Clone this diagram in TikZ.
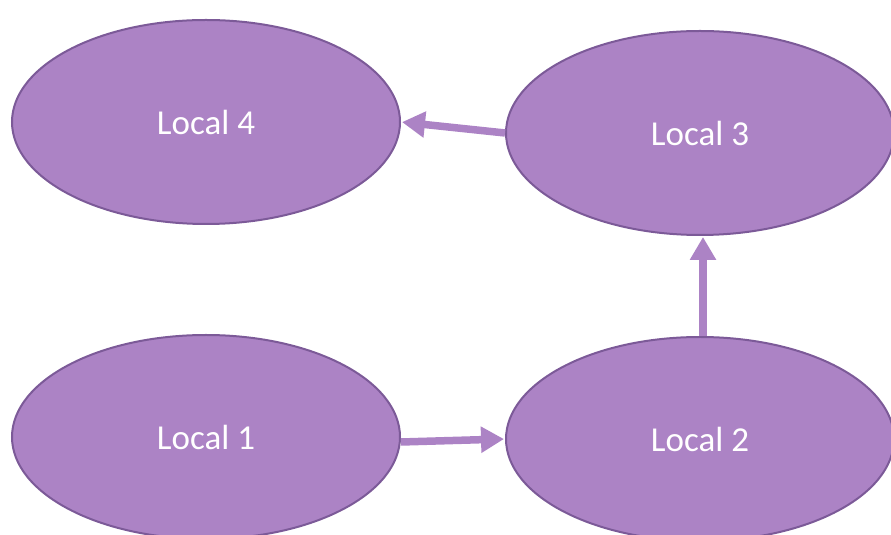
\documentclass[tikz,border=0pt]{standalone}
\usepackage{fontspec}
\setmainfont{Carlito}
\usetikzlibrary{shapes.geometric,arrows.meta}
\definecolor{pfill}{HTML}{AC83C5}
\definecolor{pline}{HTML}{7C5A98}
\begin{document}
\begin{tikzpicture}[x=1pt,y=1pt,
  loc/.style={ellipse,draw=pline,line width=2pt,fill=pfill,minimum width=388pt,minimum height=204pt,inner sep=0pt,text=white,font=\fontsize{35}{42}\selectfont},
  conn/.style={draw=pfill,line width=7.5pt,-{Triangle[length=23pt,width=25pt]},shorten >=1pt}]
\useasboundingbox (0,0) rectangle (891,535);
\node[loc] (l4) at (206,413) {Local 4};
\node[loc] (l3) at (700,402) {Local 3};
\node[loc] (l1) at (206,98) {Local 1};
\node[loc] (l2) at (700,96) {Local 2};
\draw[conn] ([yshift=-5pt]l1.east) -- (l2.west);
\draw[conn] ([xshift=3pt]l2.north) -- ([xshift=3pt]l3.south);
\draw[conn] (l3.west) -- (l4.east);
\end{tikzpicture}
\end{document}
